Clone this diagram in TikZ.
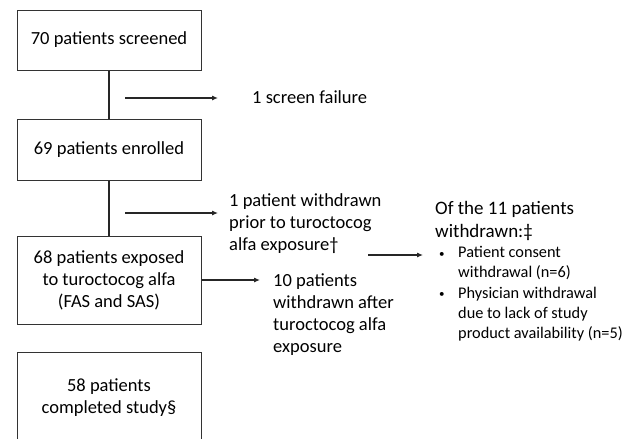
\documentclass[tikz,border=0pt]{standalone}
\usepackage{fontspec}
\setmainfont{Carlito}
\usetikzlibrary{arrows.meta}
\newcommand{\smallbul}{\makebox[20pt][l]{\hspace*{1pt}\raisebox{0.5pt}{\fontsize{11}{11}\selectfont•}}}
\begin{document}
\begin{tikzpicture}[x=1pt,y=-1pt,
  box/.style={draw=black!80,line width=1pt,minimum width=184pt,inner sep=0pt,align=center,font=\fontsize{18.5}{22}\selectfont},
  lbl/.style={anchor=base west,inner sep=0pt,align=left,font=\fontsize{18.5}{22}\selectfont},
  conn/.style={line width=1.1pt,black!85},
  arr/.style={conn,-{Latex[length=6pt,width=5pt]}}]
\useasboundingbox (0,0) rectangle (635,439);
\begin{scope}
\clip (0,0) rectangle (635,439);
\node[box,minimum height=60pt] (screened) at (109,40) {70 patients screened};
\node[box,minimum height=61pt] (enrolled) at (109,149.5) {69 patients enrolled};
\node[box,minimum height=88pt] (exposed) at (109,280) {68 patients exposed\\to turoctocog alfa\\(FAS and SAS)};
\node[box,minimum height=92pt] (completed) at (109,398) {58 patients\\completed study§};
\end{scope}

\node[lbl] (failure) at (252,103) {1 screen failure};
\node[lbl] (prior) at (229,250) {1 patient withdrawn\\prior to turoctocog\\alfa exposure†};
\node[lbl] (after) at (273,352) {10 patients\\withdrawn after\\turoctocog alfa\\exposure};
\node[lbl,font=\fontsize{19}{22.5}\selectfont] (of11) at (435,237) {Of the 11 patients\\withdrawn:‡};
\node[lbl,font=\fontsize{16.3}{20.2}\selectfont] (reasons) at (438,338.5)
  {\smallbul Patient consent\\
   \hspace*{20pt}withdrawal (n=6)\\
   \smallbul Physician withdrawal\\
   \hspace*{20pt}due to lack of study\\
   \hspace*{20pt}product availability (n=5)};

\draw[conn] (screened.south) -- (enrolled.north);
\draw[conn] (enrolled.south) -- (exposed.north);
\coordinate (a1s) at (125,98); \coordinate (a1e) at (218,98);
\coordinate (a2s) at (125,213); \coordinate (a2e) at (218,213);
\coordinate (a3e) at (260,280);
\coordinate (a4s) at (368,255); \coordinate (a4e) at (423,255);
\draw[arr] (a1s) -- (a1e);
\draw[arr] (a2s) -- (a2e);
\draw[arr] (exposed.east) -- (a3e);
\draw[arr] (a4s) -- (a4e);
\end{tikzpicture}
\end{document}
